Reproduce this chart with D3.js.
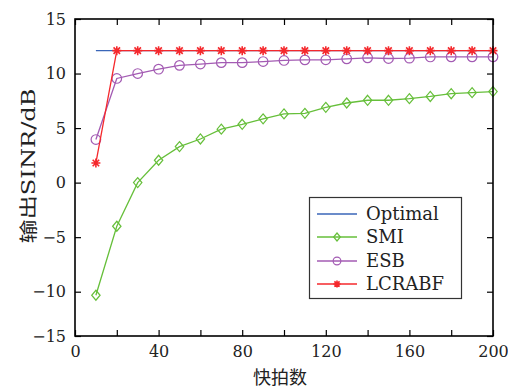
<!DOCTYPE html>
<html><head><meta charset="utf-8">
<script src="https://cdn.jsdelivr.net/npm/d3@7"></script>
<style>
html,body{margin:0;padding:0;background:#fff;}
svg{display:block;}
</style></head>
<body>
<svg id="chart" width="508" height="389"></svg>
<script>
// ---- data ----
const snapshots = [10,20,30,40,50,60,70,80,90,100,110,120,130,140,150,160,170,180,190,200];
const optimal = [12.1,12.1,12.1,12.1,12.1,12.1,12.1,12.1,12.1,12.1,12.1,12.1,12.1,12.1,12.1,12.1,12.1,12.1,12.1,12.1];
const smi = [-10.4,-4.0,0.0,2.05,3.3,4.0,4.9,5.35,5.85,6.3,6.35,6.9,7.3,7.55,7.55,7.7,7.9,8.15,8.25,8.35];
const esb = [3.95,9.55,10.0,10.4,10.75,10.87,11.0,11.0,11.1,11.2,11.25,11.26,11.35,11.44,11.38,11.41,11.52,11.53,11.53,11.53];
const lcrabf = [1.8,12.1,12.1,12.1,12.1,12.1,12.1,12.1,12.1,12.1,12.1,12.1,12.1,12.1,12.1,12.1,12.1,12.1,12.1,12.1];
const seriesNames = ["Optimal","SMI","ESB","LCRABF"];
const xTickValues = [0,20,40,60,80,100,120,140,160,180,200];
const xTickLabels = ["0","","40","","80","","120","","160","","200"];
const yTickValues = [-15,-10,-5,0,5,10,15];
const yTickLabels = ["−15","−10","−5","0","5","10","15"];
const xTitle = "快拍数";
const yTitle = "输出SINR/dB";

// ---- layout ----
const L = 75, R = 493, T = 19, B = 336;
const svg = d3.select("#chart");
const x = d3.scaleLinear().domain([0,200]).range([L,R]);
const y = d3.scaleLinear().domain([-15,-10,15]).range([B,291.7,T]);

const colors = {Optimal:"#3a66b8", SMI:"#66bf3a", ESB:"#a35bb3", LCRABF:"#f5282c"};
const serif = "'DejaVu Serif', 'Liberation Serif', serif";
const cjk = "'Noto Sans CJK SC', 'Noto Sans', sans-serif";

// axes (ticks inward, all 4 sides)
const tickLen = 6;
const axB = d3.axisBottom(x).tickValues(xTickValues).tickSize(-tickLen).tickPadding(10)
  .tickFormat((d,i)=>xTickLabels[i]);
const axT = d3.axisTop(x).tickValues(xTickValues).tickSize(-tickLen).tickFormat("");
const axL = d3.axisLeft(y).tickValues(yTickValues).tickSize(-tickLen).tickPadding(9)
  .tickFormat((d,i)=>yTickLabels[i]);
const axR = d3.axisRight(y).tickValues(yTickValues).tickSize(-tickLen).tickFormat("");

function styleAxis(g){
  g.select(".domain").remove();
  g.selectAll(".tick line").attr("stroke","#000").attr("stroke-width",1.2);
  g.selectAll("text").attr("font-family",serif).attr("font-size",16).attr("fill","#222");
}
svg.append("g").attr("transform",`translate(0,${B})`).call(axB).call(styleAxis);
svg.append("g").attr("transform",`translate(0,${T})`).call(axT).call(styleAxis);
svg.append("g").attr("transform",`translate(${L},0)`).call(axL).call(styleAxis);
svg.append("g").attr("transform",`translate(${R},0)`).call(axR).call(styleAxis);

// series
const allSeries = [
  {name:"Optimal", values:optimal, marker:null},
  {name:"SMI", values:smi, marker:"diamond"},
  {name:"ESB", values:esb, marker:"circle"},
  {name:"LCRABF", values:lcrabf, marker:"star"}
];
const line = d3.line().x(d=>x(d[0])).y(d=>y(d[1]));

function drawMarker(g, type, cx, cy, color, small){
  const s = small ? 0.8 : 1;
  if(type==="diamond"){
    const h = 5*s, w = 4.2*s;
    g.append("path").attr("d",`M${cx},${cy-h}L${cx+w},${cy}L${cx},${cy+h}L${cx-w},${cy}Z`)
      .attr("fill","none").attr("stroke",color).attr("stroke-width",1.2);
  } else if(type==="circle"){
    g.append("circle").attr("cx",cx).attr("cy",cy).attr("r",4.8*s)
      .attr("fill","none").attr("stroke",color).attr("stroke-width",1.2);
  } else if(type==="star"){
    const r = 4.5*s, d = r*0.72;
    const p = `M${cx-r},${cy}L${cx+r},${cy}M${cx},${cy-r}L${cx},${cy+r}`+
              `M${cx-d},${cy-d}L${cx+d},${cy+d}M${cx-d},${cy+d}L${cx+d},${cy-d}`;
    g.append("path").attr("d",p).attr("fill","none").attr("stroke",color).attr("stroke-width",1.6);
  }
}

const plotG = svg.append("g");
allSeries.forEach(s=>{
  const pts = snapshots.map((v,i)=>[v,s.values[i]]);
  plotG.append("path").datum(pts).attr("d",line)
    .attr("fill","none").attr("stroke",colors[s.name]).attr("stroke-width",1.3);
  if(s.marker){
    pts.forEach(p=>drawMarker(plotG,s.marker,x(p[0]),y(p[1]),colors[s.name],false));
  }
});

// frame
svg.append("rect").attr("x",L).attr("y",T).attr("width",R-L).attr("height",B-T)
  .attr("fill","none").attr("stroke","#000").attr("stroke-width",1.6);

// legend
const lg = svg.append("g");
lg.append("rect").attr("x",309.5).attr("y",197.5).attr("width",152).attr("height",101)
  .attr("fill","#fff").attr("stroke","#333").attr("stroke-width",1.2);
const rowY = [214,237,261,284];
allSeries.forEach((s,i)=>{
  const yy = rowY[i];
  lg.append("line").attr("x1",317).attr("x2",357).attr("y1",yy).attr("y2",yy)
    .attr("stroke",colors[s.name]).attr("stroke-width",1.3);
  if(s.marker) drawMarker(lg,s.marker,337,yy,colors[s.name],true);
  lg.append("text").attr("x",366).attr("y",yy).attr("dy","0.35em")
    .attr("font-family",serif).attr("font-size",18).attr("fill","#222").text(seriesNames[i]);
});

// axis titles
svg.append("text").attr("x",280).attr("y",384).attr("text-anchor","middle")
  .attr("font-family",cjk).attr("font-size",18).attr("fill","#222").text(xTitle);
const yt = svg.append("text").attr("transform","translate(35,166) rotate(-90)")
  .attr("text-anchor","middle").attr("font-size",18).attr("fill","#222")
  .attr("textLength",155).attr("lengthAdjust","spacingAndGlyphs");
yt.append("tspan").attr("font-family",cjk).text(yTitle.slice(0,2));
yt.append("tspan").attr("font-family",serif).text(yTitle.slice(2));
</script>
</body></html>
